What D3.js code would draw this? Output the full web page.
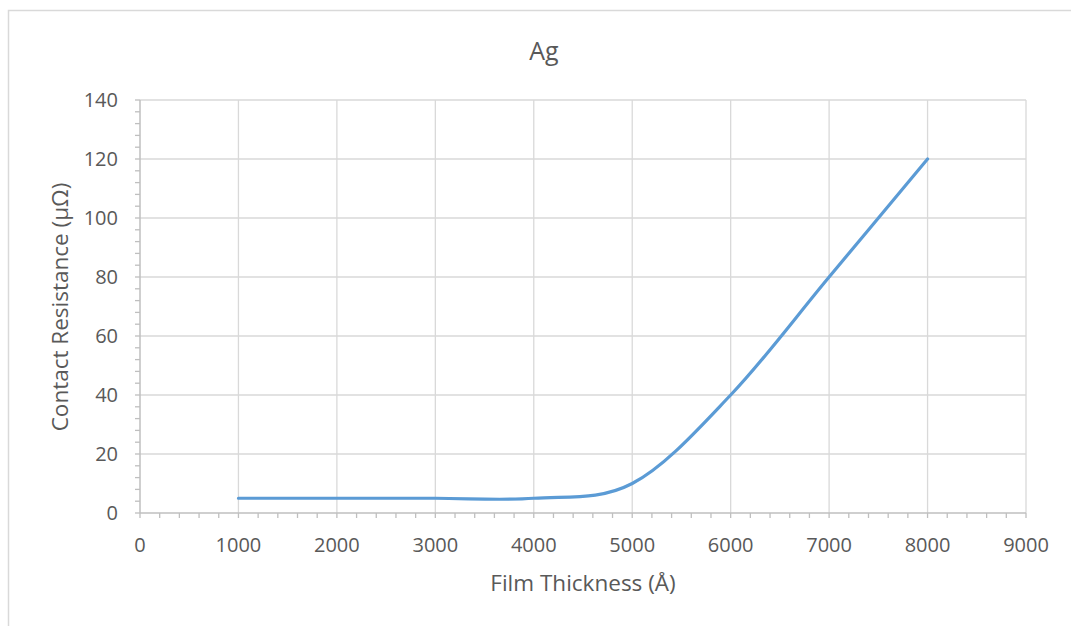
<!DOCTYPE html>
<html>
<head>
<meta charset="utf-8">
<script src="https://cdn.jsdelivr.net/npm/d3@7"></script>
<style>
  html, body { margin: 0; padding: 0; background: #fff; }
  svg { display: block; }
  text { font-family: "Open Sans", sans-serif; fill: #595959; }
</style>
</head>
<body>
<svg id="chart" width="1071" height="626"></svg>
<script>
// Contact resistance of Ag films vs. film thickness
const thickness = [1000, 2000, 3000, 4000, 5000, 6000, 7000, 8000];
const resistance = [5, 5, 5, 5, 10, 40, 80, 120];
const xTicks = [0, 1000, 2000, 3000, 4000, 5000, 6000, 7000, 8000, 9000];
const yTicks = [0, 20, 40, 60, 80, 100, 120, 140];
const chartTitle = "Ag";
const xTitle = "Film Thickness (Å)";
const yTitle = "Contact Resistance (μΩ)";

const svg = d3.select("#chart");
const plot = { left: 140, right: 1026, top: 100, bottom: 513 };

const x = d3.scaleLinear().domain([0, 9000]).range([plot.left, plot.right]);
const y = d3.scaleLinear().domain([0, 140]).range([plot.bottom, plot.top]);

// chart frame
svg.append("rect")
  .attr("x", 8.5).attr("y", 10.5)
  .attr("width", 1100).attr("height", 700)
  .attr("fill", "none").attr("stroke", "#d9d9d9").attr("stroke-width", 1.5);

// gridlines
const grid = svg.append("g");
grid.selectAll("line.v").data(xTicks.slice(1)).join("line")
  .attr("x1", d => x(d)).attr("x2", d => x(d))
  .attr("y1", plot.top).attr("y2", plot.bottom)
  .attr("stroke", "#d9d9d9").attr("stroke-width", 1.3);
grid.selectAll("line.h").data(yTicks.slice(1)).join("line")
  .attr("x1", plot.left).attr("x2", plot.right)
  .attr("y1", d => y(d)).attr("y2", d => y(d))
  .attr("stroke", "#d9d9d9").attr("stroke-width", 1.3);

// minor tick marks
const xMinor = d3.range(0, 9001, 200);
const yMinor = d3.range(0, 141, 4);
svg.append("g").selectAll("line").data(xMinor).join("line")
  .attr("x1", d => x(d)).attr("x2", d => x(d))
  .attr("y1", plot.bottom).attr("y2", plot.bottom + 5)
  .attr("stroke", "#bfbfbf").attr("stroke-width", 1.3);
svg.append("g").selectAll("line").data(yMinor).join("line")
  .attr("x1", plot.left - 5).attr("x2", plot.left)
  .attr("y1", d => y(d)).attr("y2", d => y(d))
  .attr("stroke", "#bfbfbf").attr("stroke-width", 1.3);

// axis lines
svg.append("line")
  .attr("x1", plot.left).attr("x2", plot.right)
  .attr("y1", plot.bottom).attr("y2", plot.bottom)
  .attr("stroke", "#bfbfbf").attr("stroke-width", 1.5);
svg.append("line")
  .attr("x1", plot.left).attr("x2", plot.left)
  .attr("y1", plot.top).attr("y2", plot.bottom)
  .attr("stroke", "#bfbfbf").attr("stroke-width", 1.5);

// tick labels
svg.append("g").selectAll("text").data(xTicks).join("text")
  .attr("x", d => x(d)).attr("y", plot.bottom + 39)
  .attr("text-anchor", "middle").attr("font-size", 20)
  .text(d => d);
svg.append("g").selectAll("text").data(yTicks).join("text")
  .attr("x", plot.left - 22).attr("y", d => y(d) + 7)
  .attr("text-anchor", "end").attr("font-size", 20)
  .text(d => d);

// series line (smoothed)
const line = d3.line()
  .x((d, i) => x(thickness[i]))
  .y(d => y(d))
  .curve(d3.curveCardinal.tension(0));
svg.append("path")
  .datum(resistance)
  .attr("d", line)
  .attr("fill", "none")
  .attr("stroke", "#5b9bd5")
  .attr("stroke-width", 3.2)
  .attr("stroke-linecap", "round");

// titles
svg.append("text")
  .attr("x", 544).attr("y", 60)
  .attr("text-anchor", "middle").attr("font-size", 25)
  .text(chartTitle);
svg.append("text")
  .attr("x", 583).attr("y", 591)
  .attr("text-anchor", "middle").attr("font-size", 22.5)
  .text(xTitle);
svg.append("text")
  .attr("transform", "translate(68,307) rotate(-90)")
  .attr("text-anchor", "middle").attr("font-size", 22.5)
  .text(yTitle);
</script>
</body>
</html>
